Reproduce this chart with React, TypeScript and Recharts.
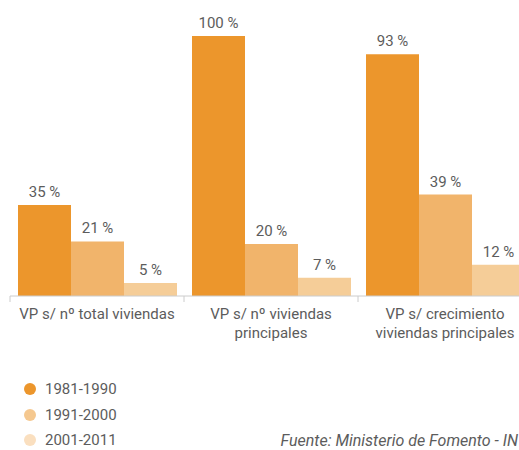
import { Bar, BarChart, LabelList, Text, XAxis, YAxis } from 'recharts';

const categories = [
  'VP s/ nº total viviendas',
  'VP s/ nº viviendas principales',
  'VP s/ crecimiento viviendas principales',
];
const series1981 = [35, 100, 93];
const series1991 = [21, 20, 39];
const series2001 = [5, 7, 12];
const seriesNames = ['1981-1990', '1991-2000', '2001-2011'];

const data = categories.map((name, i) => ({
  name,
  a: series1981[i],
  b: series1991[i],
  c: series2001[i],
}));

const CHART_W = 540;
const MARGIN = { top: 36, right: 8, left: 10, bottom: 90 };
const HALF_BAND = (CHART_W - MARGIN.left - MARGIN.right) / categories.length / 2;

const barColors = ['#ec962c', '#f1b46b', '#f5cd98'];
const legendColors = ['#ec962c', '#f5c88f', '#fadfbf'];
const textColor = '#5c5c5c';

function CategoryTick(props: any) {
  const { x, y, payload, index } = props;
  return (
    <g>
      <line x1={x - HALF_BAND} x2={x - HALF_BAND} y1={y} y2={y + 6} stroke="#ccc" />
      {index === categories.length - 1 && (
        <line x1={x + HALF_BAND} x2={x + HALF_BAND} y1={y} y2={y + 6} stroke="#ccc" />
      )}
      <Text
        x={x}
        y={y + 12}
        width={170}
        textAnchor="middle"
        verticalAnchor="start"
        lineHeight={19}
        fontSize={15}
        fill={textColor}
      >
        {payload.value}
      </Text>
    </g>
  );
}

export default function App() {
  return (
    <div
      style={{
        position: 'relative',
        width: 519,
        height: 450,
        overflow: 'hidden',
        fontFamily: 'Roboto, sans-serif',
        background: '#fff',
      }}
    >
      <style>{'body{margin:0;overflow:hidden}'}</style>
      <BarChart
        width={CHART_W}
        height={450}
        data={data}
        margin={MARGIN}
        barCategoryGap={8}
        barGap={0}
      >
        <XAxis
          dataKey="name"
          stroke="#ccc"
          tickLine={false}
          tickSize={0}
          tickMargin={0}
          height={64}
          interval={0}
          tick={<CategoryTick />}
        />
        <YAxis hide domain={[0, 100]} />
        {(['a', 'b', 'c'] as const).map((k, i) => (
          <Bar key={k} dataKey={k} name={seriesNames[i]} fill={barColors[i]} isAnimationActive={false}>
            <LabelList
              dataKey={k}
              position="top"
              offset={8}
              formatter={(v: any) => `${v} %`}
              fill={textColor}
              fontSize={15}
            />
          </Bar>
        ))}
      </BarChart>
      <div style={{ position: 'absolute', left: 24, top: 376 }}>
        {seriesNames.map((n, i) => (
          <div key={n} style={{ display: 'flex', alignItems: 'center', height: 25.7 }}>
            <span
              style={{
                width: 12,
                height: 12,
                borderRadius: 6,
                background: legendColors[i],
                display: 'inline-block',
                marginRight: 9,
              }}
            />
            <span style={{ fontSize: 15, color: textColor }}>{n}</span>
          </div>
        ))}
      </div>
      <div
        style={{
          position: 'absolute',
          right: 1,
          top: 431,
          fontSize: 16,
          fontStyle: 'italic',
          color: textColor,
          whiteSpace: 'nowrap',
        }}
      >
        Fuente: Ministerio de Fomento - IN
      </div>
    </div>
  );
}
